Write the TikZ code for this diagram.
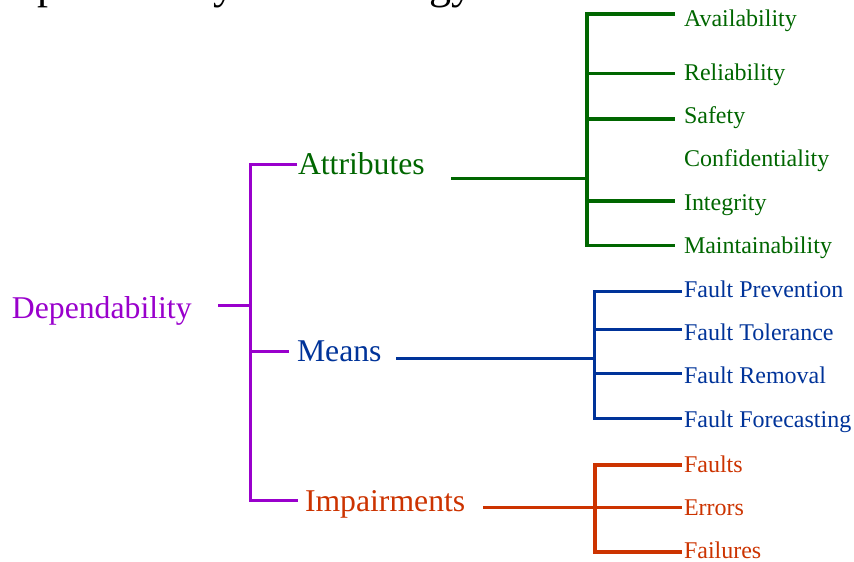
\documentclass[tikz,border=0pt]{standalone}
\usepackage{fontspec}
\setmainfont{Liberation Serif}
\definecolor{dpurple}{HTML}{9900CC}
\definecolor{dgreen}{HTML}{006600}
\definecolor{dblue}{HTML}{003399}
\definecolor{dred}{HTML}{CC3300}
\begin{document}
\begin{tikzpicture}[x=1pt,y=-1pt,
  lab/.style={inner sep=0pt, outer sep=0pt, anchor=base west},
  toplab/.style={lab, font=\fontsize{31.7}{38}\selectfont},
  leaf/.style={lab, font=\fontsize{24}{29}\selectfont},
  wire/.style={line width=3pt, line join=miter},
  gwire/.style={wire, line width=3.4pt, dgreen},
  bwire/.style={wire, dblue},
  rwire/.style={wire, line width=3.4pt, dred},
  pwire/.style={wire, dpurple},
]
\useasboundingbox (0,0) rectangle (854,562);
\clip (0,0) rectangle (854,562);

% heading, running off the top edge
\node[lab, font=\fontsize{44}{52}\selectfont] (title) at (-14,-1.3) {Dependability Terminology};

% root and first level
\node[toplab, dpurple] (dep)   at (12,318.5)  {Dependability};
\node[toplab, dgreen]  (att)   at (298,174.5) {Attributes};
\node[toplab, dblue]   (means) at (297,361.5) {Means};
\node[toplab, dred]    (imp)   at (305,511.5) {Impairments};

% attributes
\node[leaf, dgreen] (avail) at (684,26.5) {Availability};
\node[leaf, dgreen] (rel)   at (684,80)   {Reliability};
\node[leaf, dgreen] (safe)  at (684,123)  {Safety};
\node[leaf, dgreen] (conf)  at (684,166)  {Confidentiality};
\node[leaf, dgreen] (integ) at (684,210)  {Integrity};
\node[leaf, dgreen] (maint) at (684,253)  {Maintainability};

% means
\node[leaf, dblue] (fprev) at (684,297)   {Fault Prevention};
\node[leaf, dblue] (ftol)  at (684,340)   {Fault Tolerance};
\node[leaf, dblue] (frem)  at (684,383.5) {Fault Removal};
\node[leaf, dblue] (ffore) at (684,427)   {Fault Forecasting};

% impairments
\node[leaf, dred] (faults)   at (684,472) {Faults};
\node[leaf, dred] (errors)   at (684,515) {Errors};
\node[leaf, dred] (failures) at (684,558) {Failures};

% vertical bars of the brackets
\coordinate (pbar) at (250.5,0);
\coordinate (gbar) at (587,0);
\coordinate (bbar) at (594.5,0);
\coordinate (rbar) at (595,0);

% line ends next to the labels
\coordinate (dep-out)   at (218,305.5);
\coordinate (att-in)    at (297,164);
\coordinate (means-in)  at (289,351);
\coordinate (imp-in)    at (298,500);
\coordinate (att-out)   at (451,178.5);
\coordinate (means-out) at (396,358.5);
\coordinate (imp-out)   at (483,507.5);

\coordinate (avail-in) at (675,14);
\coordinate (rel-in)   at (675,73.5);
\coordinate (safe-in)  at (675,119);
\coordinate (integ-in) at (675,201);
\coordinate (maint-in) at (675,245.5);

\coordinate (fprev-in) at (682,291.5);
\coordinate (ftol-in)  at (682,329.5);
\coordinate (frem-in)  at (682,373.5);
\coordinate (ffore-in) at (682,418);

\coordinate (faults-in)   at (682,465);
\coordinate (errors-in)   at (682,507.5);
\coordinate (failures-in) at (682,552);

% Dependability bracket
\draw[pwire] (att-in) -- (att-in -| pbar) -- (imp-in -| pbar) -- (imp-in);
\draw[pwire] (dep-out) -- (dep-out -| pbar);
\draw[pwire] (means-in) -- (means-in -| pbar);

% Attributes bracket
\draw[gwire] (avail-in) -- (avail-in -| gbar) -- (maint-in -| gbar) -- (maint-in);
\draw[gwire] (att-out) -- (att-out -| gbar);
\draw[gwire] (rel-in -| gbar) -- (rel-in);
\draw[gwire] (safe-in -| gbar) -- (safe-in);
\draw[gwire] (integ-in -| gbar) -- (integ-in);

% Means bracket
\draw[bwire] (fprev-in) -- (fprev-in -| bbar) -- (ffore-in -| bbar) -- (ffore-in);
\draw[bwire] (means-out) -- (means-out -| bbar);
\draw[bwire] (ftol-in -| bbar) -- (ftol-in);
\draw[bwire] (frem-in -| bbar) -- (frem-in);

% Impairments bracket
\draw[rwire] (faults-in) -- (faults-in -| rbar) -- (failures-in -| rbar) -- (failures-in);
\draw[rwire] (imp-out) -- (errors-in);
\end{tikzpicture}
\end{document}
